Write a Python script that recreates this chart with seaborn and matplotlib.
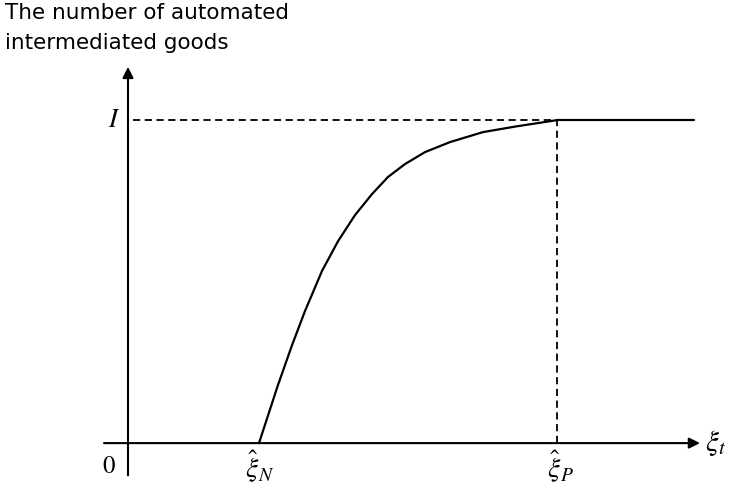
import matplotlib
matplotlib.use("Agg")
import matplotlib.pyplot as plt
import seaborn as sns
import pandas as pd

# Automation path: number of automated intermediate goods vs. xi_t
xi_curve = [1.31, 1.50, 1.64, 1.77, 1.94, 2.10, 2.27, 2.44, 2.60, 2.77, 2.97,
            3.22, 3.55, 3.89, 4.29]
automated = [0.000, 0.180, 0.303, 0.409, 0.533, 0.625, 0.706, 0.771, 0.824,
             0.864, 0.901, 0.932, 0.963, 0.981, 1.000]

xi_N = 1.31
xi_P = 4.29
level_I = 1.0
xi_end = 5.66

axis_x_range = [-0.24, 5.72]
axis_y_range = [-0.10, 1.165]

title_lines = ["The number of automated", "intermediated goods"]

sns.set_style("white")
plt.rcParams["mathtext.fontset"] = "stix"
plt.rcParams["font.family"] = ["DejaVu Sans"]
plt.rcParams["text.color"] = "black"

fig = plt.figure(figsize=(7.29, 4.88), dpi=100)
ax = fig.add_axes([0, 0, 1, 1])
ax.set_xlim(-1.28, 6.01)
ax.set_ylim(-0.139, 1.372)
ax.axis("off")

curve = pd.DataFrame({"xi": xi_curve, "n": automated})
sns.lineplot(data=curve, x="xi", y="n", ax=ax, color="black", lw=1.6,
             estimator=None, sort=False)
flat = pd.DataFrame({"xi": [xi_P, xi_end], "n": [level_I, level_I]})
sns.lineplot(data=flat, x="xi", y="n", ax=ax, color="black", lw=1.6,
             estimator=None, sort=False)

# dashed guides
dash = (0, (4, 2.5))
ax.plot([0.05, xi_P], [level_I, level_I], color="black", lw=1.3, linestyle=dash)
ax.plot([xi_P, xi_P], [0, level_I], color="black", lw=1.3, linestyle=dash)

# axes with arrowheads
arrow = dict(arrowstyle="-|>", color="black", lw=1.5, mutation_scale=16,
             shrinkA=0, shrinkB=0)
ax.annotate("", xy=(axis_x_range[1], 0), xytext=(axis_x_range[0], 0),
            arrowprops=arrow)
ax.annotate("", xy=(0, axis_y_range[1]), xytext=(0, axis_y_range[0]),
            arrowprops=arrow)

# vertical-axis caption
ax.text(0.007, 1 - 19 / 488, title_lines[0], transform=ax.transAxes,
        ha="left", va="baseline", fontsize=15.5, color="black")
ax.text(0.007, 1 - 49 / 488, title_lines[1], transform=ax.transAxes,
        ha="left", va="baseline", fontsize=15.5, color="black")

# math labels
ax.text(-0.14, level_I, r"$I$", ha="center", va="center", fontsize=19)
ax.text(-0.19, -0.072, r"$0$", ha="center", va="center", fontsize=18)
ax.text(xi_N + 0.01, -0.072, r"$\hat{\xi}_N$", ha="center", va="center", fontsize=20)
ax.text(xi_P + 0.03, -0.072, r"$\hat{\xi}_P$", ha="center", va="center", fontsize=20)
ax.text(5.77, 0.0, r"$\xi_t$", ha="left", va="center", fontsize=21)

fig.savefig("out.png", dpi=100)
